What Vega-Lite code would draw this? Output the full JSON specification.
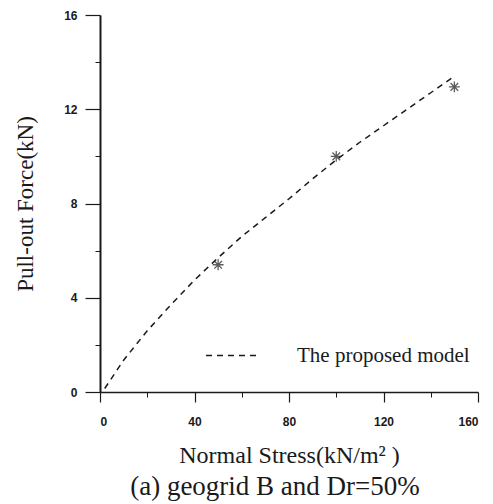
{
  "$schema": "https://vega.github.io/schema/vega-lite/v6.json",
  "width": 378,
  "height": 377,
  "autosize": "none",
  "padding": {"left": 100, "top": 15, "right": 15, "bottom": 112},
  "background": "white",
  "config": {"view": {"stroke": null}},
  "title": {
    "text": "(a) geogrid B and Dr=50%",
    "orient": "bottom",
    "anchor": "middle",
    "font": "Liberation Serif",
    "fontSize": 27,
    "fontWeight": "normal",
    "color": "#1a1a1a",
    "offset": 7,
    "dx": -14
  },
  "datasets": {
    "model": [
      {"stress": 2, "force": 0.15, "series": "The proposed model"},
      {"stress": 10, "force": 1.35, "series": "The proposed model"},
      {"stress": 20, "force": 2.6, "series": "The proposed model"},
      {"stress": 30, "force": 3.7, "series": "The proposed model"},
      {"stress": 40, "force": 4.75, "series": "The proposed model"},
      {"stress": 50, "force": 5.7, "series": "The proposed model"},
      {"stress": 60, "force": 6.6, "series": "The proposed model"},
      {"stress": 70, "force": 7.4, "series": "The proposed model"},
      {"stress": 80, "force": 8.2, "series": "The proposed model"},
      {"stress": 90, "force": 9.05, "series": "The proposed model"},
      {"stress": 100, "force": 9.85, "series": "The proposed model"},
      {"stress": 110, "force": 10.6, "series": "The proposed model"},
      {"stress": 120, "force": 11.3, "series": "The proposed model"},
      {"stress": 130, "force": 12.0, "series": "The proposed model"},
      {"stress": 140, "force": 12.7, "series": "The proposed model"},
      {"stress": 150, "force": 13.4, "series": "The proposed model"}
    ],
    "tests": [
      {"stress": 50, "force": 5.4},
      {"stress": 100, "force": 10.0},
      {"stress": 150, "force": 12.95}
    ]
  },
  "resolve": {"axis": {"x": "independent", "y": "independent"}},
  "layer": [
    {
      "data": {"name": "model"},
      "mark": {"type": "line", "color": "#1a1a1a", "strokeWidth": 1.5},
      "encoding": {
        "x": {
          "field": "stress", "type": "quantitative",
          "scale": {"domain": [0, 160], "nice": false},
          "axis": {
            "orient": "bottom",
            "values": [0, 40, 80, 120, 160],
            "title": "Normal Stress(kN/m² )",
            "titleFont": "Liberation Serif", "titleFontSize": 24, "titleFontWeight": "normal",
            "titleColor": "#1a1a1a", "titlePadding": 16,
            "labelFont": "Liberation Sans", "labelFontSize": 12, "labelFontWeight": "bold",
            "labelColor": "#1a1a1a", "labelPadding": 14,
            "tickSize": 10, "tickColor": "#1a1a1a", "domainColor": "#1a1a1a",
            "domainWidth": 1.5, "tickWidth": 1.2, "grid": false
          }
        },
        "y": {
          "field": "force", "type": "quantitative",
          "scale": {"domain": [0, 16], "nice": false},
          "axis": {
            "orient": "left",
            "values": [0, 4, 8, 12, 16],
            "title": "Pull-out Force(kN)",
            "titleFont": "Liberation Serif", "titleFontSize": 23, "titleFontWeight": "normal",
            "titleColor": "#1a1a1a", "titlePadding": 26,
            "labelFont": "Liberation Sans", "labelFontSize": 12, "labelFontWeight": "bold",
            "labelColor": "#1a1a1a", "labelPadding": 8,
            "tickSize": 15, "tickColor": "#1a1a1a", "domainColor": "#1a1a1a",
            "domainWidth": 2, "tickWidth": 1.2, "grid": false
          }
        },
        "strokeDash": {
          "field": "series", "type": "nominal",
          "scale": {"range": [[6, 5]]},
          "legend": {
            "title": null,
            "orient": "none",
            "legendX": 105,
            "legendY": 313,
            "symbolType": "stroke",
            "symbolSize": 2809,
            "symbolStrokeWidth": 1.5,
            "symbolStrokeColor": "#1a1a1a",
            "labelFont": "Liberation Serif",
            "labelFontSize": 21,
            "labelColor": "#1a1a1a",
            "labelOffset": 37,
            "labelLimit": 400
          }
        }
      }
    },
    {
      "data": {"name": "tests"},
      "mark": {
        "type": "point",
        "shape": "M0,-1L0,1M-1,0L1,0M-0.7,-0.7L0.7,0.7M-0.7,0.7L0.7,-0.7",
        "filled": false,
        "stroke": "#1a1a1a",
        "strokeWidth": 1.3,
        "size": 120
      },
      "encoding": {
        "x": {
          "field": "stress", "type": "quantitative",
          "axis": {
            "orient": "bottom", "values": [20, 60, 100, 140], "labels": false, "title": null,
            "domain": false, "grid": false, "tickSize": 5, "tickColor": "#1a1a1a", "tickWidth": 1
          }
        },
        "y": {
          "field": "force", "type": "quantitative",
          "axis": {
            "orient": "left", "values": [2, 6, 10, 14], "labels": false, "title": null,
            "domain": false, "grid": false, "tickSize": 5, "tickColor": "#1a1a1a", "tickWidth": 1
          }
        }
      }
    }
  ]
}
